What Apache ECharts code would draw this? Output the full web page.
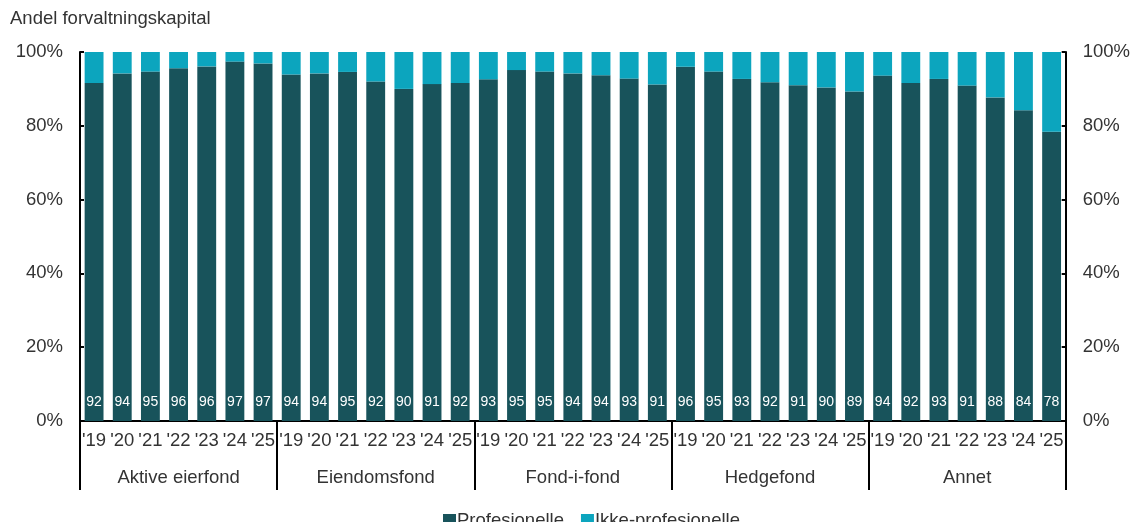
<!DOCTYPE html>
<html>
<head>
<meta charset="utf-8">
<script src="https://cdn.jsdelivr.net/npm/echarts@6/dist/echarts.min.js"></script>
<style>
  html, body { margin: 0; padding: 0; background: #fff; }
  #chart { width: 1133px; height: 522px; }
</style>
</head>
<body>
<div id="chart"></div>
<script>
// Fund types and years shown for each
const groups = ['Aktive eierfond', 'Eiendomsfond', 'Fond-i-fond', 'Hedgefond', 'Annet'];
const years = ["'19", "'20", "'21", "'22", "'23", "'24", "'25"];

// Share of assets under management held by professional investors (%)
const profAktive = [91.6, 94.2, 94.7, 95.6, 96.1, 97.4, 96.9];
const profEiendom = [93.9, 94.2, 94.6, 92.0, 90.0, 91.3, 91.6];
const profFondIFond = [92.6, 95.1, 94.7, 94.2, 93.7, 92.8, 91.2];
const profHedge = [96.0, 94.7, 92.7, 91.8, 91.0, 90.4, 89.3];
const profAnnet = [93.6, 91.6, 92.7, 90.9, 87.7, 84.2, 78.4];

const yTicks = [0, 20, 40, 60, 80, 100];

const profAll = [profAktive, profEiendom, profFondIFond, profHedge, profAnnet];
const categories = [];
const profValues = [];
groups.forEach((g, gi) => {
  years.forEach((y, yi) => {
    categories.push(g + '|' + y);
    profValues.push(profAll[gi][yi]);
  });
});
const nonProfValues = profValues.map(v => +(100 - v).toFixed(1));

const FONT = 'Liberation Sans, Arial, sans-serif';
const FS = 18.5;
const TXT = '#333333';
const DARK = '#18535b';
const LIGHT = '#0ca5be';

const chart = echarts.init(document.getElementById('chart'));

const yAxisBase = {
  type: 'value',
  min: yTicks[0],
  max: yTicks[yTicks.length - 1],
  interval: 20,
  splitLine: { show: false },
  axisLine: { show: true, lineStyle: { color: '#000', width: 2 } },
  axisTick: { show: true, inside: true, length: 4, lineStyle: { color: '#000', width: 2 } },
  axisLabel: {
    formatter: v => v + '%',
    fontFamily: FONT, fontSize: FS, color: TXT, margin: 17
  }
};

chart.setOption({
  animation: false,
  textStyle: { fontFamily: FONT },
  title: {
    text: 'Andel forvaltningskapital',
    left: 5, top: 4,
    textStyle: { fontFamily: FONT, fontSize: FS, fontWeight: 'normal', color: TXT }
  },
  legend: {
    left: 438, top: 506,
    itemWidth: 13, itemHeight: 13, itemGap: 17,
    icon: 'rect',
    textStyle: { fontFamily: FONT, fontSize: FS, color: TXT, padding: [0, 0, 0, -4] },
    data: ['Profesionelle', 'Ikke-profesionelle']
  },
  grid: { left: 80, right: 64, top: 52, bottom: 101 },
  xAxis: [
    {
      type: 'category',
      data: categories,
      position: 'bottom',
      axisLine: { show: true, lineStyle: { color: '#000', width: 2 } },
      axisTick: { show: false },
      axisLabel: {
        interval: 0, margin: 10,
        fontFamily: FONT, fontSize: FS, color: TXT,
        formatter: v => v.split('|')[1]
      }
    },
    {
      type: 'category',
      data: groups,
      position: 'bottom',
      axisLine: { show: false },
      axisTick: { show: true, length: 69, interval: 0, lineStyle: { color: '#000', width: 2 } },
      axisLabel: {
        interval: 0, margin: 47,
        fontFamily: FONT, fontSize: FS, color: TXT
      }
    }
  ],
  yAxis: [
    Object.assign({}, yAxisBase, { position: 'left' }),
    Object.assign({}, yAxisBase, { position: 'right' })
  ],
  series: [
    {
      name: 'Profesionelle',
      type: 'bar',
      stack: 'total',
      xAxisIndex: 0,
      yAxisIndex: 0,
      data: profValues,
      barCategoryGap: '33%',
      itemStyle: { color: DARK },
      label: {
        show: true,
        position: 'insideBottom',
        distance: 12,
        color: '#fff',
        fontFamily: FONT,
        fontSize: 14,
        formatter: p => Math.round(p.value)
      }
    },
    {
      name: 'Ikke-profesionelle',
      type: 'bar',
      stack: 'total',
      xAxisIndex: 0,
      yAxisIndex: 0,
      data: nonProfValues,
      barCategoryGap: '33%',
      itemStyle: { color: LIGHT }
    }
  ]
});
</script>
</body>
</html>
